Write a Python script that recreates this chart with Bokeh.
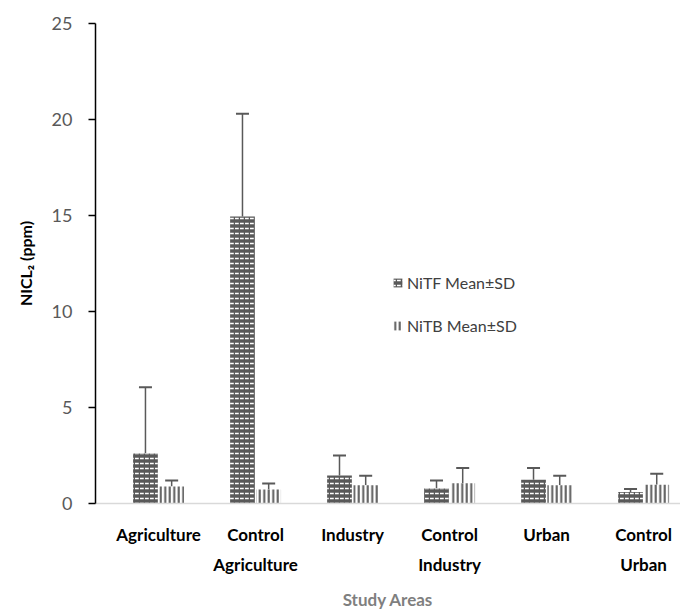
import numpy as np
from bokeh.plotting import figure
from bokeh.models import (ColumnDataSource, Range1d, FixedTicker, Whisker, TeeHead,
                          Legend, LegendItem)
from bokeh.transform import dodge
from bokeh.embed import file_html
from bokeh.resources import INLINE

categories = ["Agriculture", "Control\nAgriculture", "Industry", "Control\nIndustry", "Urban", "Control\nUrban"]
nitf_mean = [2.6, 14.95, 1.46, 0.78, 1.24, 0.6]
nitf_upper = [6.05, 20.3, 2.5, 1.2, 1.85, 0.75]
nitb_mean = [0.88, 0.73, 0.95, 1.05, 0.95, 0.98]
nitb_upper = [1.2, 1.04, 1.45, 1.85, 1.45, 1.55]
y_ticks = [0, 5, 10, 15, 20, 25]

FONT = "Lato"
GRAY = "#595959"

x = np.arange(len(categories))
src = ColumnDataSource(dict(x=x, tf=nitf_mean, tfu=nitf_upper, tb=nitb_mean, tbu=nitb_upper))

p = figure(width=680, height=612, output_backend="svg", toolbar_location=None,
           x_range=Range1d(-0.65, len(categories) - 1 + 0.38), y_range=Range1d(0, 25),
           min_border_left=95, min_border_right=0, min_border_top=23, min_border_bottom=107)
p.outline_line_color = None
p.grid.grid_line_color = None
p.background_fill_color = "white"

off = 0.135
w = 0.255
r1 = p.vbar(x=dodge("x", -off), top="tf", width=w, source=src,
            fill_color=GRAY, line_color=None,
            hatch_pattern="horizontal_dash", hatch_color="white", hatch_scale=5, hatch_weight=1.5)
r2 = p.vbar(x=dodge("x", off), top="tb", width=w, source=src,
            fill_color="white", line_color=None,
            hatch_pattern="vertical_line", hatch_color=GRAY, hatch_scale=4.5, hatch_weight=2)

for xcol, lo, hi in ((dodge("x", -off), "tf", "tfu"), (dodge("x", off), "tb", "tbu")):
    wk = Whisker(source=src, base=xcol, lower=lo, upper=hi, line_color=GRAY, line_width=1.5,
                 upper_head=TeeHead(size=13, line_color=GRAY, line_width=2), lower_head=None)
    p.add_layout(wk)

# axes
p.xaxis.ticker = FixedTicker(ticks=list(x))
p.xaxis.major_label_overrides = {int(i): c for i, c in zip(x, categories)}
p.xaxis.axis_line_color = "#d9d9d9"
p.xaxis.axis_line_width = 1.5
p.xaxis.major_tick_line_color = None
p.xaxis.minor_tick_line_color = None
p.xaxis.major_label_text_font = FONT
p.xaxis.major_label_text_font_style = "bold"
p.xaxis.major_label_text_font_size = "17px"
p.xaxis.major_label_text_color = "black"
p.xaxis.major_label_text_line_height = 1.45
p.xaxis.major_label_standoff = 14
p.xaxis.axis_label = "Study Areas"
p.xaxis.axis_label_text_font = FONT
p.xaxis.axis_label_text_font_style = "bold"
p.xaxis.axis_label_text_font_size = "17px"
p.xaxis.axis_label_text_color = "#7f7f7f"
p.xaxis.axis_label_standoff = 11

p.yaxis.ticker = FixedTicker(ticks=y_ticks)
p.yaxis.axis_line_color = "black"
p.yaxis.axis_line_width = 1.5
p.yaxis.major_tick_line_color = "black"
p.yaxis.major_tick_line_width = 1.5
p.yaxis.major_tick_out = 7
p.yaxis.major_tick_in = 0
p.yaxis.minor_tick_line_color = None
p.yaxis.major_label_text_font = FONT
p.yaxis.major_label_text_font_size = "18px"
p.yaxis.major_label_text_color = "#595959"
p.yaxis.major_label_standoff = 16
p.yaxis.axis_label = "NICL₂ (ppm)"
p.yaxis.axis_label_text_font = FONT
p.yaxis.axis_label_text_font_style = "bold"
p.yaxis.axis_label_text_font_size = "16px"
p.yaxis.axis_label_text_color = "black"
p.yaxis.axis_label_standoff = 14

legend = Legend(items=[LegendItem(label="NiTF Mean±SD", renderers=[r1]),
                       LegendItem(label="NiTB Mean±SD", renderers=[r2])],
                location=(297, 168), orientation="vertical",
                background_fill_alpha=0, border_line_color=None,
                label_text_font=FONT, label_text_font_size="16px", label_text_color="#404040",
                glyph_width=11, glyph_height=11, spacing=24, label_standoff=4, padding=0, margin=0)
p.add_layout(legend)

open("out.html", "w").write(file_html(p, INLINE))
